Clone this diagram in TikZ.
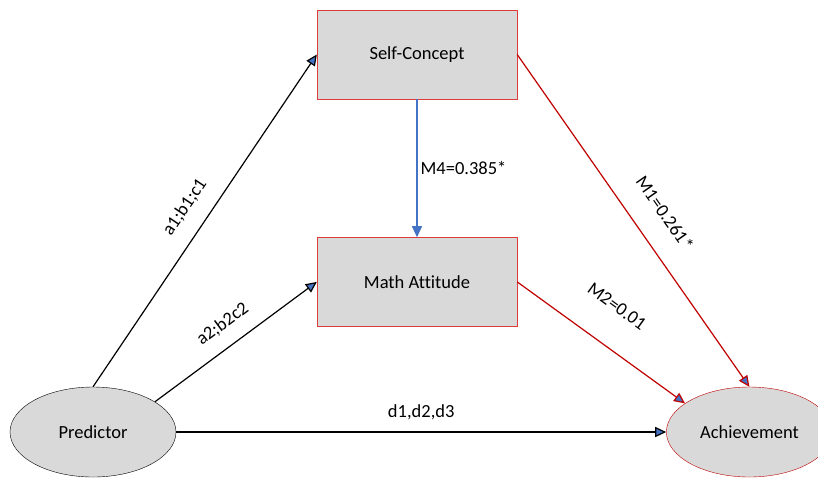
\documentclass[tikz,border=0pt]{standalone}
\usepackage{fontspec}
\setmainfont{Carlito}[Ligatures=NoCommon]
\usetikzlibrary{positioning,shapes.geometric,arrows.meta}
\definecolor{boxgray}{RGB}{217,217,217}
\definecolor{boxred}{RGB}{220,60,60}
\definecolor{linered}{RGB}{192,0,0}
\definecolor{tipblue}{RGB}{68,114,196}

\begin{document}
\begin{tikzpicture}[x=1pt,y=-1pt,
	every node/.style={font=\fontsize{18.5}{22}\selectfont,
                        text=black,
                        inner sep=1pt
                        },
	proc/.style= {draw=boxred,
    			  fill=boxgray,
                  minimum width=200pt,
                  minimum height=89pt
    },
	var/.style= {ellipse,
    			 draw,
                 fill=boxgray,
                 minimum width=166pt,
                 minimum height=90pt
    },
	path/.style= {line width=1.2pt,
    			  -{Triangle[length=11pt,width=10pt,fill=tipblue]}
    }
]
	\useasboundingbox (0,0) rectangle (818,477);
	\node (self) [proc] at (417,54.5) {Self-Concept};
    \node (math) [proc, below = 138pt of self] {Math Attitude};
	\node (pred) [var] at (93,432) {Predictor};
    \node (ach) [var, draw=linered, right = 490pt of pred] {Achievement};
    \draw[path] (pred.north) -- node[sloped, above=15pt] {a1;b1;c1} (self.west);
    \draw[path] (pred.26) -- node[sloped, above=13pt] {a2;b2c2} (math.west);
    \draw[path] (pred.east) -- node[above=11pt] {d1,d2,d3} (ach.west);
    \draw[path, tipblue] (self.south) -- node[right=2pt] {M4=0.385*} (math.north);
    \draw[path, linered] (self.east) -- node[sloped, above=22pt, pos=0.53] {M1=0.261*} (ach.north);
    \draw[path, linered] (math.east) -- node[sloped, above=31pt, pos=0.46] {M2=0.01} (ach.156);
\end{tikzpicture}
\end{document}
